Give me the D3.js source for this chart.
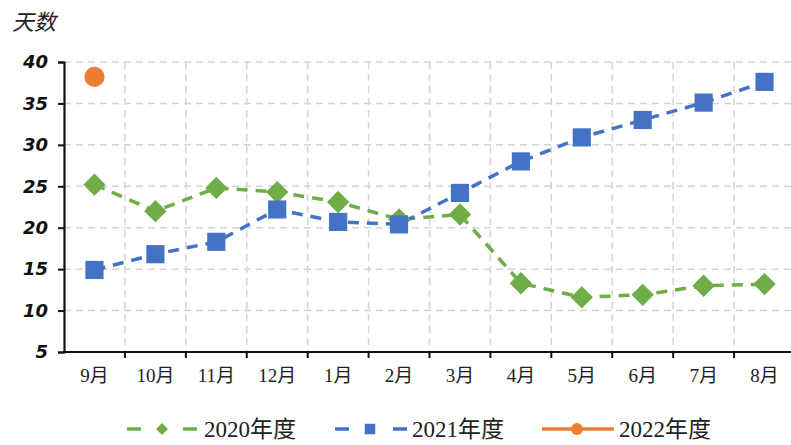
<!DOCTYPE html>
<html>
<head>
<meta charset="utf-8">
<script src="https://cdn.jsdelivr.net/npm/d3@7/dist/d3.min.js"></script>
<style>
  body { margin: 0; background: #fff; }
  svg { display: block; }
</style>
</head>
<body>
<div id="viz-wrapper"></div>
<script>
var width = 791;
var height = 445;

// months on the x axis
var months = ['9月', '10月', '11月', '12月', '1月', '2月', '3月', '4月', '5月', '6月', '7月', '8月'];

// days per month
var days2020 = [25.2, 22.0, 24.8, 24.3, 23.1, 21.0, 21.6, 13.3, 11.6, 11.9, 13.0, 13.2];
var days2021 = [14.9, 16.8, 18.3, 22.2, 20.7, 20.4, 24.2, 28.0, 30.9, 33.0, 35.1, 37.6];
var days2022 = [38.2];

var yTicks = [5, 10, 15, 20, 25, 30, 35, 40];

var seriesNames = ['2020年度', '2021年度', '2022年度'];

var serif = '"Liberation Serif", "Noto Sans CJK SC", serif';

var viz = d3.select('#viz-wrapper').append('svg').attr('width', width).attr('height', height);

var x = d3.scaleBand().domain(months).range([64, 795]);
var y = d3.scaleLinear().domain([5, 40]).range([352, 62]);

function cx(d, i) { return x(months[i]) + x.bandwidth() / 2; }

// gridlines
var grid = viz.append('g');
grid.selectAll('.hg').data(yTicks.slice(1)).enter().append('line')
	.attr('x1', 64).attr('x2', width)
	.attr('y1', function(d) { return y(d); }).attr('y2', function(d) { return y(d); })
	.attr('stroke', '#d4d4d4').attr('stroke-width', 1.5).attr('stroke-dasharray', '7,5');

grid.selectAll('.vg').data(months.slice(1)).enter().append('line')
	.attr('x1', function(d) { return x(d); }).attr('x2', function(d) { return x(d); })
	.attr('y1', y(40)).attr('y2', y(5))
	.attr('stroke', '#d4d4d4').attr('stroke-width', 1.5).attr('stroke-dasharray', '7,5');

// y axis
var yAxis = viz.append('g').attr('transform', 'translate(64,0)')
	.call(d3.axisLeft(y).tickValues(yTicks).tickSize(6).tickPadding(10));
yAxis.select('.domain').attr('stroke', '#111').attr('stroke-width', 2.2);
yAxis.selectAll('.tick line').attr('stroke', '#111').attr('stroke-width', 2);
yAxis.selectAll('text')
	.style('font-family', '"DejaVu Sans", sans-serif').style('font-size', '18px')
	.style('font-weight', 'bold').style('font-style', 'italic').attr('fill', '#111');

// x axis (labels only, ticks drawn between months)
var xAxis = viz.append('g').attr('transform', 'translate(0,' + y(5) + ')')
	.call(d3.axisBottom(x).tickSize(0).tickPadding(17));
xAxis.select('.domain').remove();
xAxis.selectAll('text')
	.style('font-family', serif).style('font-size', '19px').attr('fill', '#222');

viz.append('line').attr('x1', 63).attr('x2', width).attr('y1', y(5)).attr('y2', y(5))
	.attr('stroke', '#111').attr('stroke-width', 2.2);
viz.selectAll('.xt').data(months.slice(1)).enter().append('line')
	.attr('x1', function(d) { return x(d); }).attr('x2', function(d) { return x(d); })
	.attr('y1', y(5)).attr('y2', y(5) + 6)
	.attr('stroke', '#111').attr('stroke-width', 2);

// axis title
viz.append('text').attr('x', 12).attr('y', 30).text('天数')
	.style('font-family', serif).style('font-size', '22px').style('font-style', 'italic').attr('fill', '#222');

// lines
var line = d3.line().x(cx).y(function(d) { return y(d); });

viz.append('path').datum(days2020).attr('d', line)
	.attr('fill', 'none').attr('stroke', '#70ad47').attr('stroke-width', 3.5).attr('stroke-dasharray', '11,8');
viz.append('path').datum(days2021).attr('d', line)
	.attr('fill', 'none').attr('stroke', '#4472c4').attr('stroke-width', 3.5).attr('stroke-dasharray', '11,8');

// markers
var diamond = d3.symbol().type(d3.symbolSquare).size(250);
var square = d3.symbol().type(d3.symbolSquare).size(330);
var circle = d3.symbol().type(d3.symbolCircle).size(320);

viz.selectAll('.m2020').data(days2020).enter().append('path')
	.attr('d', diamond)
	.attr('transform', function(d, i) { return 'translate(' + cx(d, i) + ',' + y(d) + ') rotate(45)'; })
	.attr('fill', '#70ad47');

viz.selectAll('.m2021').data(days2021).enter().append('path')
	.attr('d', square)
	.attr('transform', function(d, i) { return 'translate(' + cx(d, i) + ',' + y(d) + ')'; })
	.attr('fill', '#4472c4');

viz.selectAll('.m2022').data(days2022).enter().append('path')
	.attr('d', circle)
	.attr('transform', function(d, i) { return 'translate(' + cx(d, i) + ',' + y(d) + ')'; })
	.attr('fill', '#ed7d31');

// legend
var legend = [
	{ name: seriesNames[0], color: '#70ad47', x: 127, dash: '14,42', sym: d3.symbol().type(d3.symbolSquare).size(70), rot: 45 },
	{ name: seriesNames[1], color: '#4472c4', x: 335, dash: '14,44', sym: d3.symbol().type(d3.symbolSquare).size(110), rot: 0 },
	{ name: seriesNames[2], color: '#ed7d31', x: 542, dash: null, sym: d3.symbol().type(d3.symbolCircle).size(110), rot: 0 }
];

var lg = viz.selectAll('.lg').data(legend).enter().append('g')
	.attr('transform', function(d) { return 'translate(' + d.x + ',429)'; });

lg.append('line').attr('x1', 0).attr('x2', 72).attr('y1', 0).attr('y2', 0)
	.attr('stroke', function(d) { return d.color; }).attr('stroke-width', 3.5)
	.attr('stroke-dasharray', function(d) { return d.dash; });
lg.append('path').attr('d', function(d) { return d.sym(); })
	.attr('transform', function(d) { return 'translate(35,0) rotate(' + d.rot + ')'; })
	.attr('fill', function(d) { return d.color; });
lg.append('text').attr('x', 77).attr('y', 8).text(function(d) { return d.name; })
	.style('font-family', serif).style('font-size', '23px').attr('fill', '#222');
</script>
</body>
</html>
